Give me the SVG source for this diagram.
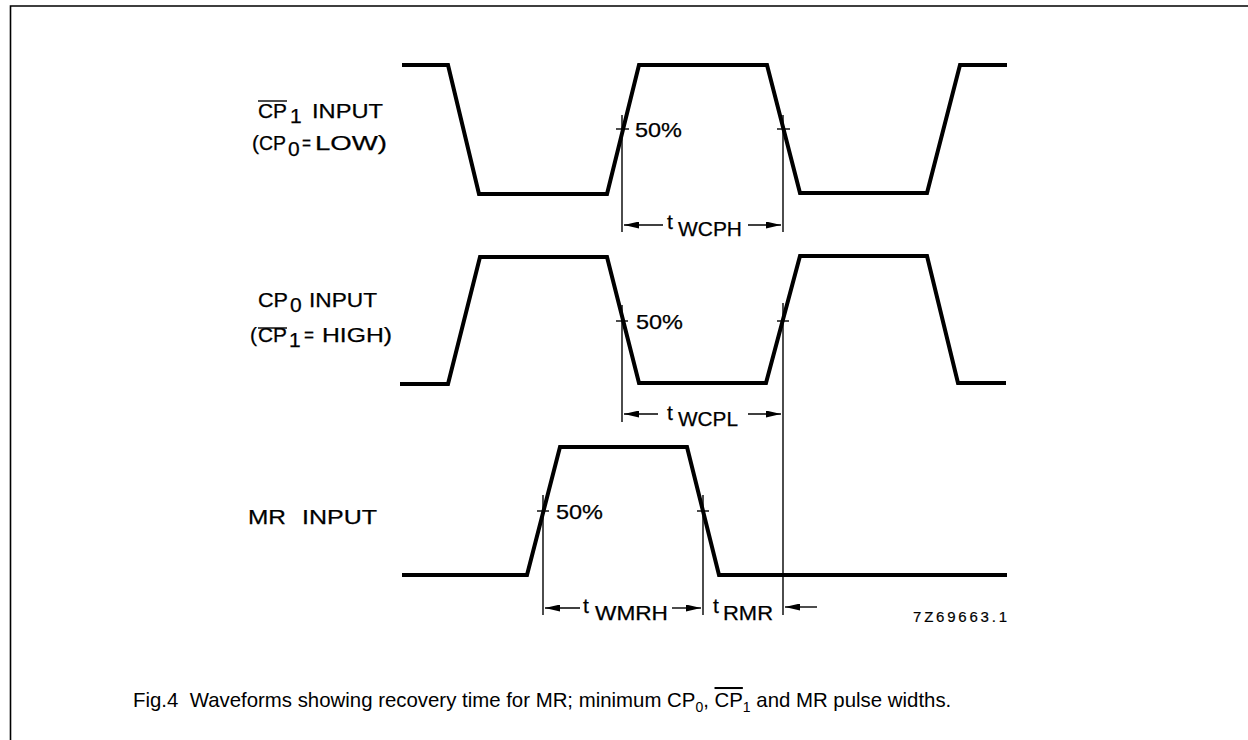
<svg xmlns="http://www.w3.org/2000/svg" width="1248" height="740" viewBox="0 0 1248 740">
<style>
.bg{fill:#fff}
.frame{fill:none;stroke:#000;stroke-width:1.6}
.wave{fill:none;stroke:#000;stroke-width:4;stroke-linejoin:miter}
.thin{fill:none;stroke:#000;stroke-width:1.4}
.lbl{font-family:"Liberation Sans",Arial,Helvetica,sans-serif;font-size:21px;fill:#000;stroke:#000;stroke-width:0.25}
.cap{font-family:"Liberation Sans",Arial,Helvetica,sans-serif;font-size:20.4px;fill:#000}
.code{font-family:"Liberation Sans",Arial,Helvetica,sans-serif;font-size:15px;fill:#000;stroke:#000;stroke-width:0.2}
</style>
<defs>
<marker id="ah" viewBox="0 0 15 7" refX="15" refY="3.5" markerWidth="15" markerHeight="7" markerUnits="userSpaceOnUse" orient="auto">
<path d="M0,0 L15,3.5 L0,7 z" fill="#000"/>
</marker>
</defs>
<rect class="bg" x="0" y="0" width="1248" height="740"/>
<path class="frame" d="M10.5,740 V6 H1248"/>

<g id="cp1">
<text class="lbl" x="258" y="118" textLength="29" lengthAdjust="spacingAndGlyphs">CP</text>
<line class="thin" x1="258" y1="101" x2="287" y2="101"/>
<text class="lbl" x="290" y="123">1</text>
<text class="lbl" x="312" y="118" textLength="71" lengthAdjust="spacingAndGlyphs">INPUT</text>
<text class="lbl" x="252" y="150">(</text>
<text class="lbl" x="259" y="150" textLength="27" lengthAdjust="spacingAndGlyphs">CP</text>
<text class="lbl" x="288" y="156">0</text>
<text class="lbl" x="302" y="150" textLength="9" lengthAdjust="spacingAndGlyphs">=</text>
<text class="lbl" x="315" y="150" textLength="72" lengthAdjust="spacingAndGlyphs">LOW)</text>
<polyline class="wave" points="402,65 448,65 479,194 607,194 639,65 767,65 800,193 927,193 960,65 1007,65"/>
<line class="thin" x1="616" y1="129" x2="629" y2="129"/>
<line class="thin" x1="777" y1="129" x2="790" y2="129"/>
<text class="lbl" x="635" y="137" textLength="47" lengthAdjust="spacingAndGlyphs">50%</text>
</g>

<g id="cp0">
<text class="lbl" x="258" y="307" textLength="30" lengthAdjust="spacingAndGlyphs">CP</text>
<text class="lbl" x="290" y="312">0</text>
<text class="lbl" x="309" y="307" textLength="68" lengthAdjust="spacingAndGlyphs">INPUT</text>
<text class="lbl" x="250" y="342">(</text>
<text class="lbl" x="258" y="342" textLength="29" lengthAdjust="spacingAndGlyphs">CP</text>
<line class="thin" x1="258" y1="328" x2="287" y2="328"/>
<text class="lbl" x="289" y="347">1</text>
<text class="lbl" x="304" y="342" textLength="10" lengthAdjust="spacingAndGlyphs">=</text>
<text class="lbl" x="322" y="342" textLength="70" lengthAdjust="spacingAndGlyphs">HIGH)</text>
<polyline class="wave" points="400,384 448,384 480,257 607,257 639,383 766,383 800,256 927,256 958,383 1006,383"/>
<line class="thin" x1="616" y1="321" x2="628" y2="321"/>
<line class="thin" x1="777" y1="321" x2="789" y2="321"/>
<text class="lbl" x="636" y="329" textLength="47" lengthAdjust="spacingAndGlyphs">50%</text>
</g>

<g id="mr">
<text class="lbl" x="248" y="524" textLength="38" lengthAdjust="spacingAndGlyphs">MR</text>
<text class="lbl" x="302" y="524" textLength="75" lengthAdjust="spacingAndGlyphs">INPUT</text>
<polyline class="wave" points="402,575 527,575 560,447 687,447 719,575 1007,575"/>
<line class="thin" x1="537" y1="511" x2="549" y2="511"/>
<line class="thin" x1="697" y1="511" x2="709" y2="511"/>
<text class="lbl" x="556" y="519" textLength="47" lengthAdjust="spacingAndGlyphs">50%</text>
</g>

<g id="connectors">
<line class="thin" x1="622" y1="115" x2="622" y2="232"/>
<line class="thin" x1="783" y1="115" x2="783" y2="232"/>
<line class="thin" x1="622" y1="305" x2="622" y2="422"/>
<line class="thin" x1="783" y1="303" x2="783" y2="615"/>
<line class="thin" x1="543" y1="495" x2="543" y2="615"/>
<line class="thin" x1="703" y1="495" x2="703" y2="615"/>
<line class="thin" x1="663" y1="225" x2="624" y2="225" marker-end="url(#ah)"/>
<line class="thin" x1="748" y1="225" x2="781" y2="225" marker-end="url(#ah)"/>
<line class="thin" x1="658" y1="414" x2="624" y2="414" marker-end="url(#ah)"/>
<line class="thin" x1="748" y1="414" x2="781" y2="414" marker-end="url(#ah)"/>
<line class="thin" x1="580" y1="608" x2="545" y2="608" marker-end="url(#ah)"/>
<line class="thin" x1="672" y1="608" x2="701" y2="608" marker-end="url(#ah)"/>
<line class="thin" x1="817" y1="607" x2="785" y2="607" marker-end="url(#ah)"/>
</g>

<g id="dim-labels">
<text class="lbl" x="667" y="229">t</text>
<text class="lbl" x="678" y="236" textLength="64" lengthAdjust="spacingAndGlyphs">WCPH</text>
<text class="lbl" x="667" y="420">t</text>
<text class="lbl" x="678" y="426" textLength="60" lengthAdjust="spacingAndGlyphs">WCPL</text>
<text class="lbl" x="583" y="613">t</text>
<text class="lbl" x="595" y="620" textLength="73" lengthAdjust="spacingAndGlyphs">WMRH</text>
<text class="lbl" x="713" y="613">t</text>
<text class="lbl" x="723" y="620" textLength="50" lengthAdjust="spacingAndGlyphs">RMR</text>
<text class="code" x="913" y="622" textLength="94" lengthAdjust="spacing">7Z69663.1</text>
</g>

<g id="caption">
<text class="cap" x="133" y="707" xml:space="preserve">Fig.4  Waveforms showing recovery time for MR; minimum CP<tspan font-size="14" dy="5">0</tspan><tspan dy="-5">, </tspan><tspan text-decoration="overline">CP</tspan><tspan font-size="14" dy="5">1</tspan><tspan dy="-5"> and MR pulse widths.</tspan></text>
</g>
</svg>
